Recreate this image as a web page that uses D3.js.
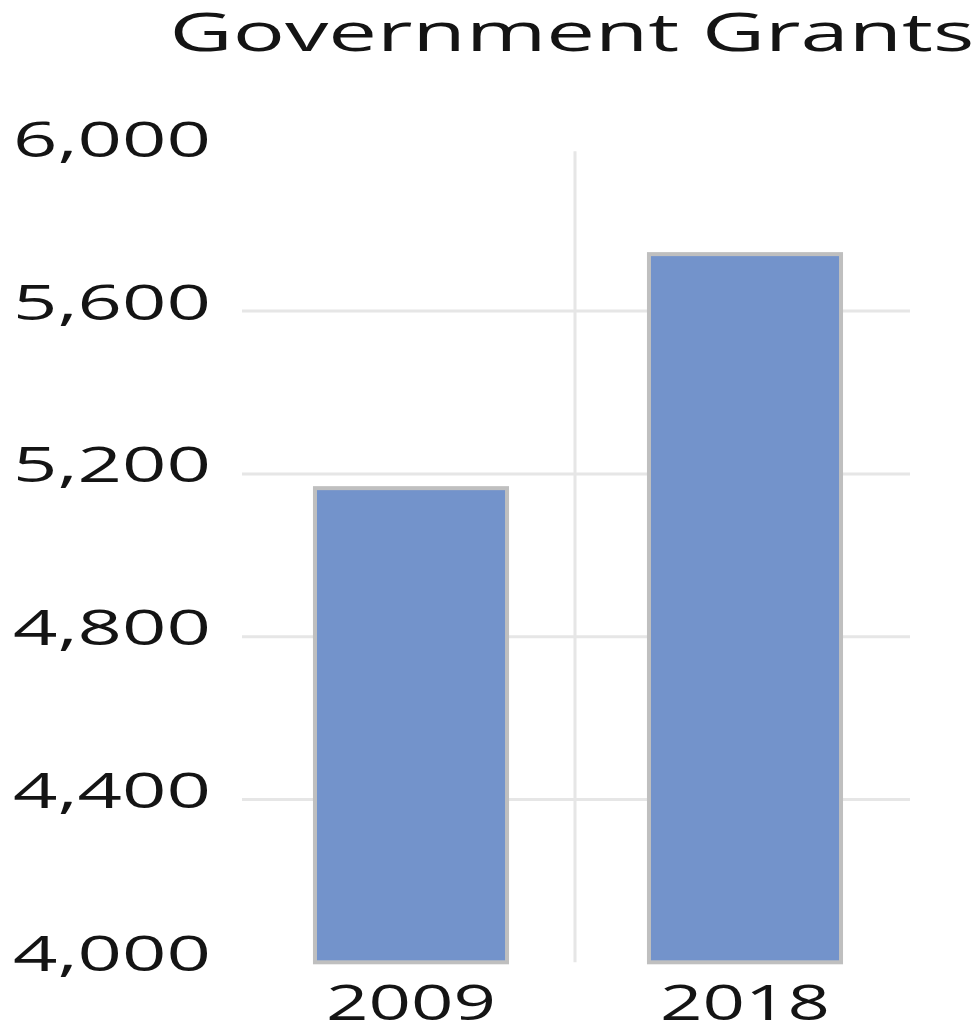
<!DOCTYPE html>
<meta charset="utf-8">
<html>
<head>
    <title>Government Grants</title>
    <script src="https://d3js.org/d3.v7.min.js"></script>
</head>
<style>
    body { margin: 0; background: white; }
    text { font-family: "Open Sans", "Noto Sans", sans-serif; fill: #141414; }
</style>
<body>
<div id="chartsdiv"></div>
<script>

// chart data
var years = ["2009", "2018"];
var grants = [5165, 5740];
var yTicks = [4000, 4400, 4800, 5200, 5600, 6000];
var gridTicks = [4400, 4800, 5200, 5600];
var chartTitle = "Government Grants";

// canvas and plot area
var width = 980, height = 1024;
var plot = {left: 242, right: 910, top: 148.3, bottom: 962.3};

var svg = d3.select("#chartsdiv")
    .append("svg")
        .attr("width", width)
        .attr("height", height);

// scales
var scaleX = d3.scaleBand()
    .domain(years)
    .range([plot.left, plot.right]);

var scaleY = d3.scaleLinear()
    .domain([4000, 6000])
    .range([plot.bottom, plot.top]);

// horizontal gridlines
svg.append("g")
    .selectAll("line")
    .data(gridTicks)
    .join("line")
        .attr("x1", plot.left)
        .attr("x2", plot.right)
        .attr("y1", d => scaleY(d))
        .attr("y2", d => scaleY(d))
        .style("stroke", "#e6e6e6")
        .style("stroke-width", 3);

// vertical divider between categories
svg.append("line")
    .attr("x1", scaleX(years[1]) - 1)
    .attr("x2", scaleX(years[1]) - 1)
    .attr("y1", scaleY(6000) + 3)
    .attr("y2", scaleY(4000))
    .style("stroke", "#e6e6e6")
    .style("stroke-width", 3);

// bars
var barW = scaleX.bandwidth() * 0.575;
svg.append("g")
    .selectAll("rect")
    .data(years)
    .join("rect")
        .attr("x", d => scaleX(d) + (scaleX.bandwidth() - barW) / 2 + 2)
        .attr("y", (d, i) => scaleY(grants[i]))
        .attr("width", barW)
        .attr("height", (d, i) => scaleY(4000) - scaleY(grants[i]))
        .style("fill", "#7393cb")
        .style("stroke", "#bfbfbf")
        .style("stroke-width", 4);

// y axis labels (no line)
var axisY = svg.append("g")
    .attr("transform", "translate(211,0)")
    .call(d3.axisLeft(scaleY).tickValues(yTicks).tickSize(0).tickPadding(0)
        .tickFormat(d3.format(",")));
axisY.select(".domain").remove();
axisY.selectAll("text")
    .attr("dy", null)
    .attr("y", 8)
    .style("font-size", "49px")
    .attr("textLength", 198)
    .attr("lengthAdjust", "spacingAndGlyphs");

// x axis labels
var axisX = svg.append("g")
    .attr("transform", "translate(0," + plot.bottom + ")")
    .call(d3.axisBottom(scaleX).tickSize(0).tickPadding(0));
axisX.select(".domain").remove();
axisX.selectAll("text")
    .attr("dy", null)
    .attr("y", 58)
    .style("font-size", "49px")
    .attr("textLength", 170)
    .attr("lengthAdjust", "spacingAndGlyphs");
axisX.selectAll("text").attr("transform", "translate(2,0)");

// title
svg.append("text")
    .attr("x", 572)
    .attr("y", 51)
    .attr("text-anchor", "middle")
    .style("font-size", "53px")
    .attr("textLength", 805)
    .attr("lengthAdjust", "spacingAndGlyphs")
    .text(chartTitle);

</script>
</body>
</html>
